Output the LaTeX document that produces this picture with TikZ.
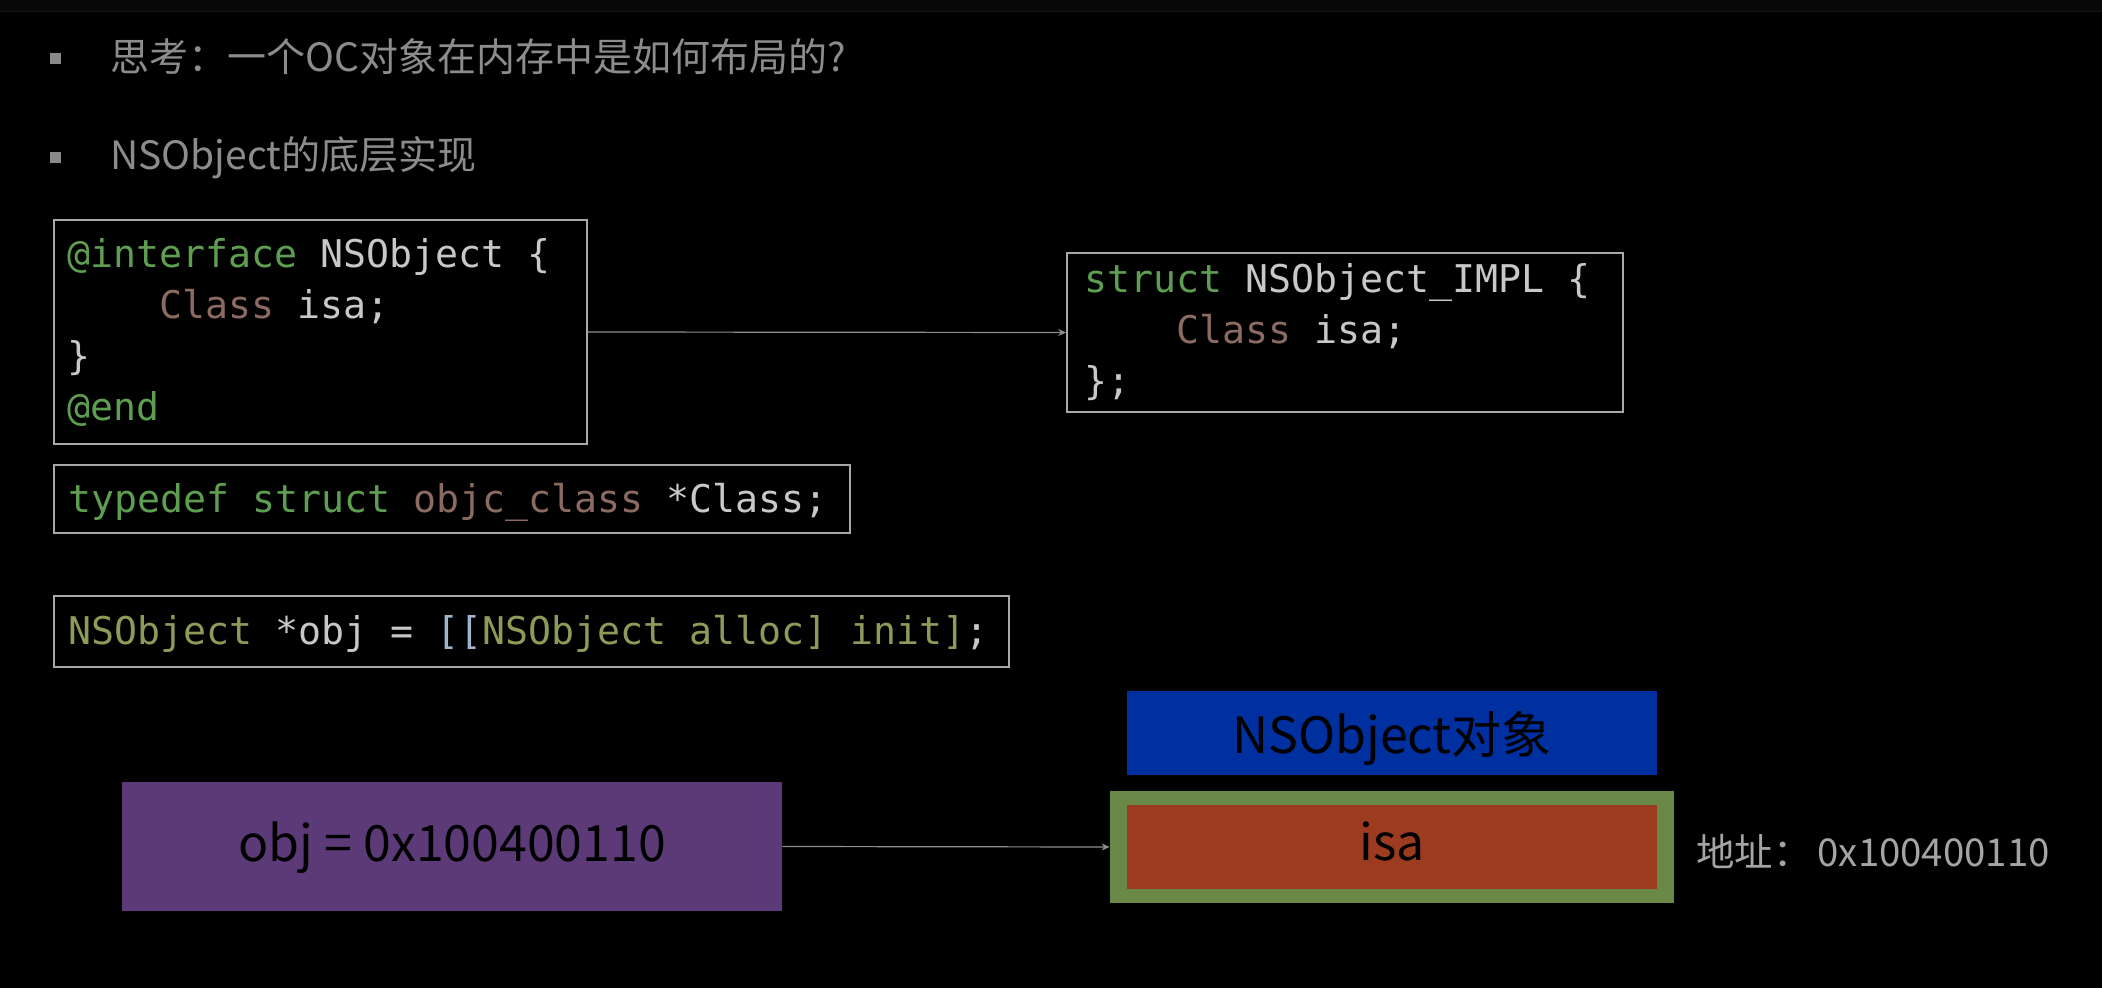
\documentclass[tikz,border=0pt]{standalone}
\usepackage{fontspec}
\usetikzlibrary{arrows.meta,fit}
\newfontfamily\cjk{Noto Sans CJK SC}
\newfontfamily\mono{DejaVu Sans Mono}
\definecolor{topband}{HTML}{080808}
\definecolor{topline}{HTML}{141414}
\definecolor{txtgray}{HTML}{8C8C8C}
\definecolor{bulgray}{HTML}{8A8A8A}
\definecolor{boxgray}{HTML}{A8A8A8}
\definecolor{arrgray}{HTML}{8E8E8E}
\definecolor{codegray}{HTML}{C8C8C8}
\definecolor{kw}{HTML}{5E9E50}
\definecolor{cls}{HTML}{8B6A62}
\definecolor{olv}{HTML}{8C9C58}
\definecolor{brk}{HTML}{A0B4CC}
\definecolor{cpurple}{HTML}{5B3A77}
\definecolor{cblue}{HTML}{0030A0}
\definecolor{cgreen}{HTML}{6A8848}
\definecolor{cred}{HTML}{9D3B20}
\definecolor{addrgray}{HTML}{A4A4A4}
\begin{document}
\begin{tikzpicture}[x=0.5pt,y=-0.5pt,
  codebox/.style={draw=boxgray, line width=0.8pt, inner sep=0pt},
  code/.style={anchor=base west, inner sep=0pt, text=codegray,
    font=\mono\fontsize{19.1pt}{23pt}\selectfont},
  bulletbox/.style={fill=bulgray, minimum size=5.5pt, inner sep=0pt},
  bultxt/.style={anchor=base west, inner sep=0pt, text=txtgray,
    font=\cjk\fontsize{19.5pt}{23pt}\selectfont},
  bigbox/.style={inner sep=0pt, text=black,
    font=\cjk\fontsize{25pt}{30pt}\selectfont},
  link/.style={draw=arrgray, line width=0.6pt, -{Stealth[length=4pt,width=3.5pt]}}]
\useasboundingbox (0,0) rectangle (2102,988);
% background
\fill[black] (-20,-20) rectangle (2122,1008);
\fill[topband] (-20,-20) rectangle (2122,12);
\draw[topline, line width=0.5pt] (-20,12) -- (2122,12);

% bullets
\node[bulletbox] (b1) at (55,59) {};
\node[bultxt] (t1) at (110,71.5) {思考：一个OC对象在内存中是如何布局的?};
\node[bulletbox] (b2) at (55,158) {};
\node[bultxt] (t2) at (110,170) {NSObject的底层实现};

% @interface box
\node[codebox, fit={(54,220) (587,444)}] (ifc) {};
\node[code] (ifc1) at (67,268) {{\color{kw}@interface} NSObject \{};
\node[code] (ifc2) at (159,319) {{\color{cls}Class} isa;};
\node[code] (ifc3) at (67,370) {\}};
\node[code] (ifc4) at (67,421) {{\color{kw}@end}};

% struct box
\node[codebox, fit={(1067,253) (1623,412)}] (impl) {};
\node[code] (impl1) at (1084,293) {{\color{kw}struct} NSObject\_IMPL \{};
\node[code] (impl2) at (1176,344) {{\color{cls}Class} isa;};
\node[code] (impl3) at (1084,395) {\};};

\draw[link] (ifc.east) -- (impl.west);

% typedef box
\node[codebox, fit={(54,465) (850,533)}] (td) {};
\node[code] (td1) at (68,512) {{\color{kw}typedef struct} {\color{cls}objc\_class} *Class;};

% alloc box
\node[codebox, fit={(54,596) (1009,667)}] (ob) {};
\node[code] (ob1) at (68,644) {{\color{olv}NSObject} *obj = {\color{brk}[[}{\color{olv}NSObject alloc] init]};};

% memory picture
\node[bigbox, fill=cpurple, minimum width=330pt, minimum height=64.5pt,
  text height=16pt, text depth=1.5pt] (obj) at (452,846.5) {obj = 0x100400110};
\node[bigbox, fill=cblue, minimum width=265pt, minimum height=42pt,
  text height=22pt, text depth=2pt] (title) at (1392,733) {NSObject对象};
\node[fill=cgreen, minimum width=282pt, minimum height=56pt, inner sep=0pt] (mem) at (1392,847) {};
\node[bigbox, fill=cred, minimum width=265pt, minimum height=42pt,
  text height=15pt, text depth=2pt] (isa) at (1392,847) {isa};
\node[anchor=base west, inner sep=0pt, text=addrgray,
  font=\cjk\fontsize{19.2pt}{23pt}\selectfont] (addr) at (1696,866) {地址：\kern3pt0x100400110};

\draw[link] (obj.east) -- (mem.west);
\end{tikzpicture}
\end{document}
